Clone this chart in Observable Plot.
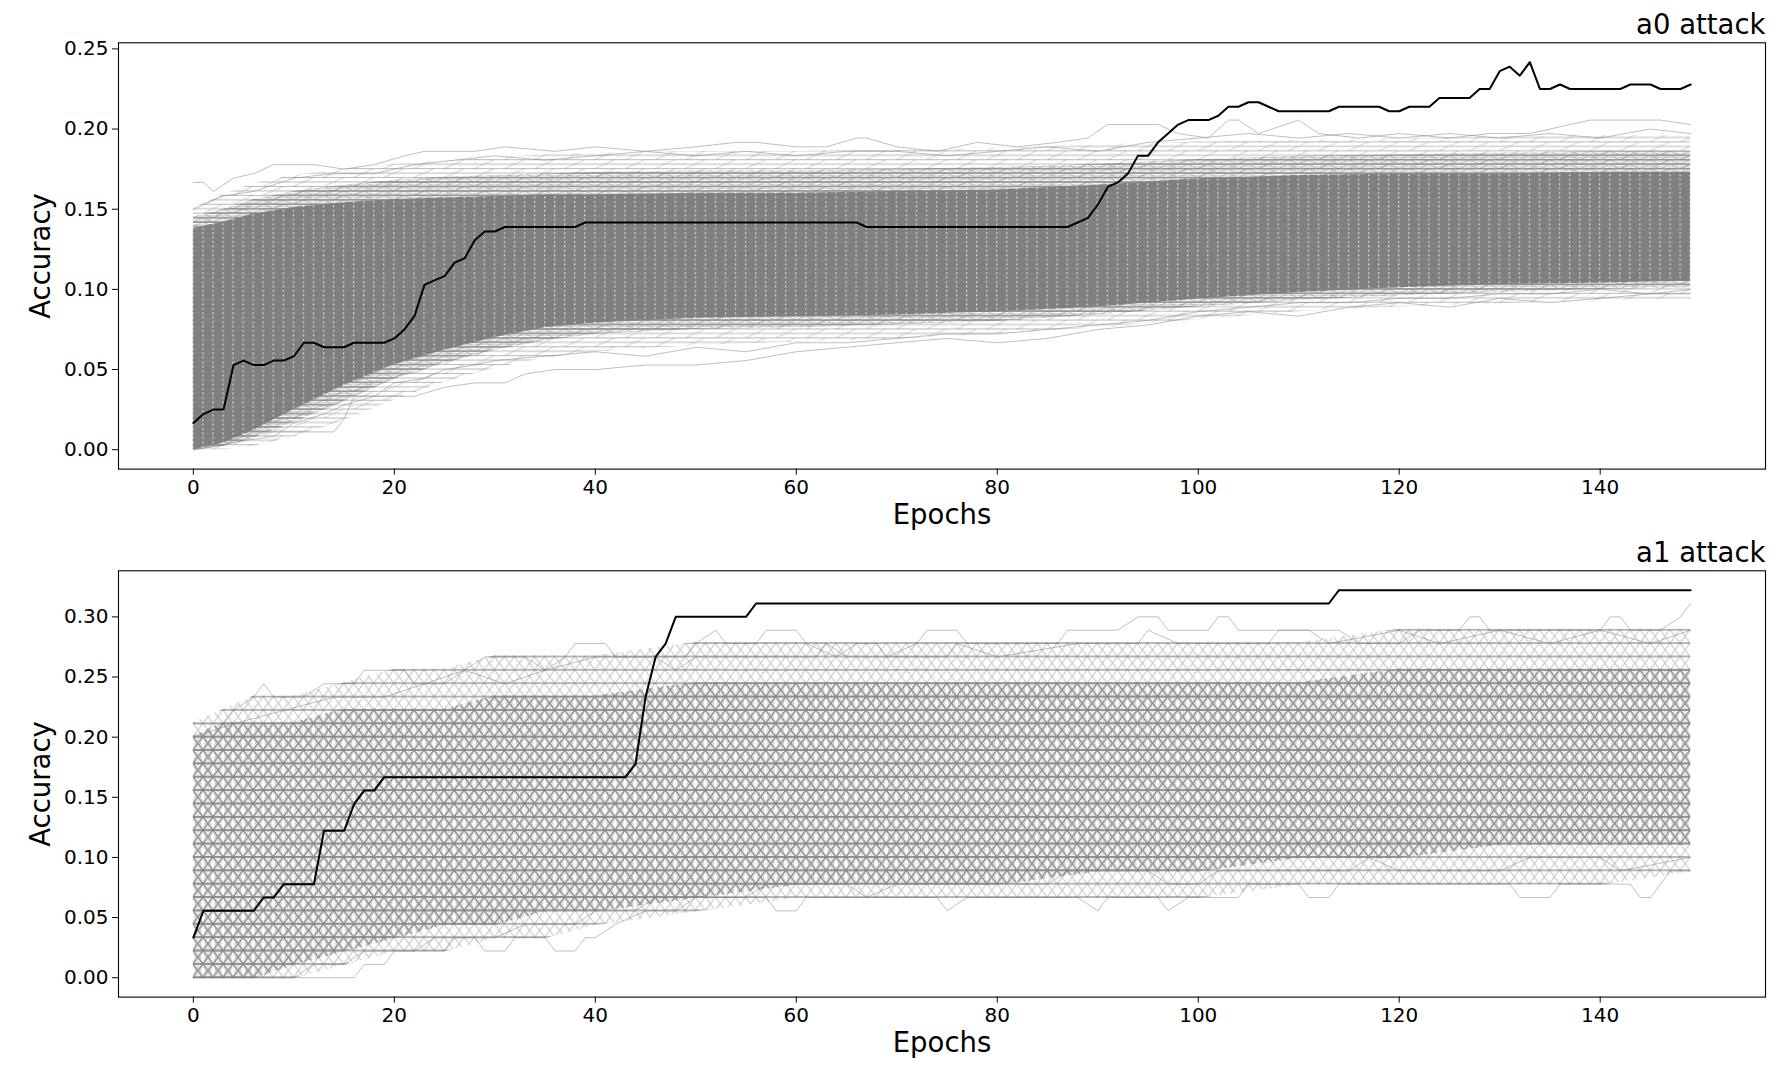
<!DOCTYPE html>
<html>
<head>
<meta charset="utf-8">
<script src="https://cdn.jsdelivr.net/npm/d3@7"></script>
<script src="https://cdn.jsdelivr.net/npm/@observablehq/plot@0.6"></script>
<style>
html, body { margin: 0; padding: 0; background: #ffffff; }
#chart { width: 1792px; height: 1070px; overflow: hidden; }
#chart svg { display: block; }
</style>
</head>
<body>
<div id="chart"></div>
<script>
// ---------- shared labels / ticks ----------
const xLabel = "Epochs";
const yLabel = "Accuracy";
const titles = ["a0 attack", "a1 attack"];
const xTicks = [0, 20, 40, 60, 80, 100, 120, 140];
const a0YTicks = [0, 0.05, 0.10, 0.15, 0.20, 0.25];
const a1YTicks = [0, 0.05, 0.10, 0.15, 0.20, 0.25, 0.30];

// ---------- highlighted (black) series, one value per epoch 0..149 ----------
const a0Best = [
0.0167,0.0222,0.025,0.025,0.0528,0.0556,0.0528,0.0528,0.0556,0.0556,
0.0583,0.0667,0.0667,0.0639,0.0639,0.0639,0.0667,0.0667,0.0667,0.0667,
0.0694,0.075,0.0833,0.1028,0.1056,0.1083,0.1167,0.1194,0.1306,0.1361,
0.1361,0.1389,0.1389,0.1389,0.1389,0.1389,0.1389,0.1389,0.1389,0.1417,
0.1417,0.1417,0.1417,0.1417,0.1417,0.1417,0.1417,0.1417,0.1417,0.1417,
0.1417,0.1417,0.1417,0.1417,0.1417,0.1417,0.1417,0.1417,0.1417,0.1417,
0.1417,0.1417,0.1417,0.1417,0.1417,0.1417,0.1417,0.1389,0.1389,0.1389,
0.1389,0.1389,0.1389,0.1389,0.1389,0.1389,0.1389,0.1389,0.1389,0.1389,
0.1389,0.1389,0.1389,0.1389,0.1389,0.1389,0.1389,0.1389,0.1417,0.1444,
0.1528,0.1639,0.1667,0.1722,0.1833,0.1833,0.1917,0.1972,0.2028,0.2056,
0.2056,0.2056,0.2083,0.2139,0.2139,0.2167,0.2167,0.2139,0.2111,0.2111,
0.2111,0.2111,0.2111,0.2111,0.2139,0.2139,0.2139,0.2139,0.2139,0.2111,
0.2111,0.2139,0.2139,0.2139,0.2194,0.2194,0.2194,0.2194,0.225,0.225,
0.2361,0.2389,0.2333,0.2417,0.225,0.225,0.2278,0.225,0.225,0.225,
0.225,0.225,0.225,0.2278,0.2278,0.2278,0.225,0.225,0.225,0.2278
];
const a1Best = [
0.0333,0.0556,0.0556,0.0556,0.0556,0.0556,0.0556,0.0667,0.0667,0.0778,
0.0778,0.0778,0.0778,0.1222,0.1222,0.1222,0.1444,0.1556,0.1556,0.1667,
0.1667,0.1667,0.1667,0.1667,0.1667,0.1667,0.1667,0.1667,0.1667,0.1667,
0.1667,0.1667,0.1667,0.1667,0.1667,0.1667,0.1667,0.1667,0.1667,0.1667,
0.1667,0.1667,0.1667,0.1667,0.1778,0.2333,0.2667,0.2778,0.3,0.3,
0.3,0.3,0.3,0.3,0.3,0.3,0.3111,0.3111,0.3111,0.3111,
0.3111,0.3111,0.3111,0.3111,0.3111,0.3111,0.3111,0.3111,0.3111,0.3111,
0.3111,0.3111,0.3111,0.3111,0.3111,0.3111,0.3111,0.3111,0.3111,0.3111,
0.3111,0.3111,0.3111,0.3111,0.3111,0.3111,0.3111,0.3111,0.3111,0.3111,
0.3111,0.3111,0.3111,0.3111,0.3111,0.3111,0.3111,0.3111,0.3111,0.3111,
0.3111,0.3111,0.3111,0.3111,0.3111,0.3111,0.3111,0.3111,0.3111,0.3111,
0.3111,0.3111,0.3111,0.3111,0.3222,0.3222,0.3222,0.3222,0.3222,0.3222,
0.3222,0.3222,0.3222,0.3222,0.3222,0.3222,0.3222,0.3222,0.3222,0.3222,
0.3222,0.3222,0.3222,0.3222,0.3222,0.3222,0.3222,0.3222,0.3222,0.3222,
0.3222,0.3222,0.3222,0.3222,0.3222,0.3222,0.3222,0.3222,0.3222,0.3222
];

// ---------- the grey bundle of other runs: envelopes read at these epochs ----------
const bandEpochs = [0,3,6,10,15,20,25,30,35,40,50,60,70,80,90,100,110,120,130,140,149];

// a0: loose lines (outer), dense lines (inner), solid core
const a0OuterLow  = [0.0,0.0,0.002,0.008,0.018,0.031,0.042,0.051,0.057,0.061,0.065,0.067,0.069,0.072,0.076,0.081,0.086,0.089,0.091,0.093,0.094];
const a0InnerLow  = [0.0,0.002,0.007,0.017,0.030,0.044,0.054,0.062,0.068,0.072,0.075,0.076,0.078,0.080,0.084,0.089,0.093,0.096,0.098,0.100,0.101];
const a0CoreLow   = [0.0,0.004,0.012,0.025,0.040,0.053,0.062,0.070,0.076,0.079,0.082,0.083,0.084,0.086,0.089,0.094,0.098,0.101,0.103,0.104,0.105];
const a0CoreHigh  = [0.138,0.142,0.147,0.151,0.154,0.156,0.157,0.158,0.159,0.159,0.160,0.160,0.161,0.162,0.165,0.169,0.171,0.172,0.172,0.173,0.173];
const a0InnerHigh = [0.145,0.150,0.156,0.161,0.165,0.168,0.170,0.171,0.172,0.173,0.174,0.174,0.175,0.176,0.178,0.181,0.183,0.184,0.185,0.186,0.186];
const a0OuterHigh = [0.151,0.159,0.166,0.171,0.175,0.178,0.180,0.182,0.184,0.185,0.186,0.186,0.187,0.188,0.190,0.192,0.193,0.194,0.195,0.196,0.196];

// a1: sparse mesh region and dense mesh core
const a1FringeLow  = [0,0,0,0,0.0111,0.0222,0.0222,0.0333,0.0333,0.0444,0.0556,0.0667,0.0667,0.0667,0.0667,0.0667,0.0778,0.0778,0.0778,0.0778,0.0889];
const a1CoreLow    = [0,0,0,0.0111,0.0222,0.0333,0.0444,0.0444,0.0556,0.0556,0.0667,0.0778,0.0778,0.0778,0.0889,0.0889,0.1,0.1,0.1111,0.1111,0.1111];
const a1CoreHigh   = [0.2,0.2111,0.2111,0.2111,0.2222,0.2222,0.2222,0.2333,0.2333,0.2333,0.2444,0.2444,0.2444,0.2444,0.2444,0.2444,0.2444,0.2556,0.2556,0.2556,0.2556];
const a1FringeHigh = [0.2111,0.2222,0.2333,0.2333,0.2444,0.2556,0.2556,0.2667,0.2667,0.2667,0.2778,0.2778,0.2778,0.2778,0.2778,0.2778,0.2778,0.2889,0.2889,0.2889,0.2889];

// ---------- individual outlying grey runs: [epoch, accuracy] ----------
const a0TopOut1 = [[0,0.1667],[1,0.1667],[2,0.1611],[4,0.1694],[6,0.1722],[8,0.1778],[12,0.1778],[15,0.175],[18,0.1778],[21,0.1833],[23,0.1861],[28,0.1861],[31,0.1889],[36,0.1861],[40,0.1889],[45,0.1861],[50,0.1889],[54,0.1917],[56,0.1917],[60,0.1889],[63,0.1889],[66,0.1944],[67,0.1944],[70,0.1889],[74,0.1861],[78,0.1917],[82,0.1889],[86,0.1917],[89,0.1944],[91,0.2028],[96,0.2028],[98,0.1972],[101,0.1944],[103,0.2056],[104,0.2056],[106,0.1972],[110,0.2056],[112,0.1972],[116,0.1944],[120,0.1972],[125,0.1944],[129,0.1972],[133,0.1972],[137,0.2028],[139,0.2056],[146,0.2056],[149,0.2028]];
const a0TopOut2 = [[0,0.15],[3,0.1583],[6,0.1611],[10,0.1694],[14,0.1722],[18,0.1722],[22,0.1778],[26,0.1806],[30,0.1833],[35,0.1806],[40,0.1833],[45,0.1861],[50,0.1833],[55,0.1861],[60,0.1833],[65,0.1861],[70,0.1861],[75,0.1833],[80,0.1861],[85,0.1889],[90,0.1861],[95,0.1917],[100,0.1944],[105,0.1972],[110,0.1944],[115,0.1972],[120,0.1944],[125,0.1972],[130,0.1944],[135,0.1972],[140,0.1944],[145,0.2],[149,0.1972]];
const a0LowOut1 = [[0,0],[3,0.0028],[6,0.0111],[10,0.0111],[14,0.0111],[15,0.0194],[16,0.0333],[18,0.0333],[22,0.0333],[25,0.0389],[28,0.0417],[31,0.0417],[33,0.0472],[36,0.05],[40,0.05],[45,0.0528],[50,0.0528],[55,0.0556],[60,0.0611],[65,0.0639],[70,0.0667],[75,0.0694],[80,0.0667],[85,0.0694],[90,0.075],[95,0.0778],[100,0.0833],[105,0.0861],[110,0.0833],[115,0.0889],[120,0.0917],[125,0.0889],[130,0.0944],[135,0.0917],[140,0.0944],[145,0.0972],[149,0.0972]];
const a0LowOut2 = [[0,0],[5,0.0056],[8,0.0083],[10,0.0167],[13,0.0222],[15,0.0278],[18,0.0333],[20,0.0417],[23,0.0444],[25,0.05],[28,0.0528],[30,0.0556],[35,0.0583],[40,0.0611],[45,0.0583],[50,0.0639],[55,0.0611],[60,0.0667],[65,0.0667],[70,0.0694],[75,0.0722],[80,0.0722],[85,0.075],[90,0.0778],[95,0.0806],[100,0.0861],[105,0.0889],[110,0.0917],[115,0.0917],[120,0.0944],[125,0.0944],[130,0.0972],[135,0.0972],[140,0.1],[145,0.0972],[149,0.1]];

const a1TopOut1 = [[0,0.2111],[3,0.2111],[4,0.2222],[6,0.2333],[7,0.2444],[8,0.2333],[11,0.2333],[13,0.2444],[16,0.2444],[17,0.2556],[21,0.2556],[22,0.2444],[25,0.2444],[27,0.2556],[29,0.2667],[33,0.2667],[35,0.2556],[37,0.2667],[38,0.2778],[41,0.2778],[42,0.2667],[49,0.2667],[50,0.2778],[52,0.2889],[53,0.2778],[56,0.2778],[57,0.2889],[60,0.2889],[61,0.2778],[64,0.2667],[66,0.2778],[68,0.2778],[69,0.2667],[72,0.2778],[73,0.2889],[76,0.2889],[77,0.2778],[86,0.2778],[87,0.2889],[92,0.2889],[94,0.3],[96,0.3],[97,0.2889],[101,0.2889],[102,0.3],[103,0.3],[104,0.2889],[114,0.2889],[116,0.2778],[120,0.2778],[122,0.2889],[126,0.2889],[127,0.3],[128,0.3],[129,0.2889],[140,0.2889],[141,0.3],[142,0.3],[143,0.2889],[146,0.2889],[148,0.3],[149,0.3111]];
const a1TopOut2 = [[0,0.2],[4,0.2111],[9,0.2222],[14,0.2333],[19,0.2333],[23,0.2444],[27,0.2556],[31,0.2444],[35,0.2556],[40,0.2667],[46,0.2667],[48,0.2556],[50,0.2667],[62,0.2667],[63,0.2778],[65,0.2667],[75,0.2667],[76,0.2778],[80,0.2667],[88,0.2778],[94,0.2778],[95,0.2889],[98,0.2778],[107,0.2778],[108,0.2889],[111,0.2889],[113,0.2778],[120,0.2889],[124,0.2778],[130,0.2889],[135,0.2778],[140,0.2889],[145,0.2778],[149,0.2889]];
const a1LowOut1 = [[0,0],[16,0],[17,0.0111],[19,0.0111],[20,0.0222],[25,0.0222],[26,0.0333],[28,0.0333],[29,0.0222],[31,0.0222],[32,0.0333],[35,0.0333],[36,0.0222],[38,0.0222],[39,0.0333],[40,0.0333],[42,0.0444],[45,0.0556],[48,0.0556],[50,0.0667],[57,0.0667],[58,0.0556],[60,0.0556],[61,0.0667],[74,0.0667],[75,0.0556],[77,0.0667],[88,0.0667],[90,0.0556],[91,0.0667],[96,0.0667],[97,0.0556],[99,0.0667],[104,0.0667],[105,0.0778],[110,0.0778],[111,0.0667],[113,0.0667],[114,0.0778],[131,0.0778],[132,0.0667],[135,0.0667],[136,0.0778],[143,0.0778],[144,0.0667],[145,0.0667],[146,0.0778],[147,0.0889],[149,0.0889]];
const a1LowOut2 = [[0,0],[10,0],[12,0.0111],[15,0.0111],[17,0.0222],[22,0.0222],[24,0.0333],[30,0.0333],[33,0.0444],[38,0.0444],[40,0.0556],[44,0.0556],[46,0.0667],[55,0.0667],[57,0.0778],[65,0.0778],[67,0.0667],[70,0.0778],[85,0.0778],[87,0.0889],[95,0.0889],[97,0.0778],[100,0.0778],[102,0.0889],[115,0.0889],[117,0.1],[120,0.0889],[130,0.0889],[133,0.1],[140,0.1],[142,0.0889],[149,0.1]];

// ---------- drawing ----------
const FONT = "'DejaVu Sans', 'Liberation Sans', sans-serif";

function makePanel(cfg) {
  const marks = [];
  cfg.layers.forEach(L => {
    const rows = bandEpochs.map((e, i) => ({e, lo: L.low[i], hi: L.high[i]}));
    marks.push(Plot.areaY(rows, {
      x: "e", y1: d => d.lo - L.pad, y2: d => d.hi + L.pad,
      fill: `url(#${L.pattern})`, curve: L.curve
    }));
  });
  cfg.outliers.forEach(o => marks.push(Plot.line(o, {
    x: d => d[0], y: d => d[1], stroke: "#808080", strokeOpacity: 0.5, strokeWidth: 1
  })));
  marks.push(Plot.line(cfg.best, {x: (d, i) => i, y: d => d, stroke: "#000", strokeWidth: 2}));
  marks.push(Plot.frame({stroke: "#000", strokeWidth: 1.1}));
  marks.push(Plot.axisX({ticks: xTicks, tickSize: 6, tickPadding: 5, fontSize: 20, label: null, tickFormat: d => String(d)}));
  marks.push(Plot.axisY({ticks: cfg.yTicks, tickSize: 6, tickPadding: 4, fontSize: 20, label: null, tickFormat: d3.format(".2f")}));
  marks.push(Plot.text([xLabel], {text: d => d, frameAnchor: "bottom", lineAnchor: "bottom", dy: 54.4, fontSize: 27.5}));
  marks.push(Plot.text([yLabel], {text: d => d, frameAnchor: "left", textAnchor: "middle", lineAnchor: "bottom", rotate: -90, dx: -69, fontSize: 27.5}));
  marks.push(Plot.text([cfg.title], {text: d => d, frameAnchor: "top-right", textAnchor: "end", lineAnchor: "bottom", dy: -9, fontSize: 27.5}));

  const svg = Plot.plot({
    width: 1792, height: cfg.height,
    marginLeft: 118, marginRight: 27, marginTop: cfg.marginTop, marginBottom: cfg.marginBottom,
    x: {domain: [-7.45, 156.45]},
    y: {domain: cfg.yDomain},
    style: {fontFamily: FONT, fontSize: "20px", color: "#000", background: "#fff", overflow: "visible"},
    marks
  });
  const xs = svg.scale("x"), ys = svg.scale("y");
  const x0 = xs.apply(0), dx = xs.apply(1) - x0;
  const y0 = ys.apply(0), dy = y0 - ys.apply(cfg.step);
  const defs = document.createElementNS("http://www.w3.org/2000/svg", "defs");
  defs.innerHTML = cfg.patterns(x0, y0, dx, dy);
  svg.insertBefore(defs, svg.firstChild);
  return svg;
}

const p1 = makePanel({
  title: titles[0], best: a0Best, yTicks: a0YTicks, yDomain: [-0.0121, 0.2538], step: 1 / 360,
  height: 535, marginTop: 42.3, marginBottom: 66.4,
  layers: [
    {low: a0OuterLow, high: a0OuterHigh, pattern: "a0outer", curve: "linear", pad: 0},
    {low: a0InnerLow, high: a0InnerHigh, pattern: "a0inner", curve: "linear", pad: 0},
    {low: a0CoreLow, high: a0CoreHigh, pattern: "a0core", curve: "linear", pad: 0}
  ],
  outliers: [a0TopOut1, a0TopOut2, a0LowOut1, a0LowOut2],
  patterns: (x0, y0, dx, dy) => `
    <pattern id="a0outer" patternUnits="userSpaceOnUse" x="${x0}" y="${y0}" width="${dx * 3}" height="${dy * 2}">
      <path d="M0,0H${dx * 3}M0,${dy}H${dx * 3}M0,${dy * 2}H${dx * 3}" stroke="#808080" stroke-opacity="0.55" stroke-width="1.1" fill="none"/>
      <path d="M${dx},${dy}L${dx * 2},0M${dx * 2},${dy * 2}L${dx * 3},${dy}" stroke="#808080" stroke-opacity="0.35" stroke-width="1" fill="none"/>
    </pattern>
    <pattern id="a0inner" patternUnits="userSpaceOnUse" x="${x0}" y="${y0}" width="${dx * 2}" height="${dy}">
      <path d="M0,0H${dx * 2}M0,${dy}H${dx * 2}" stroke="#808080" stroke-opacity="0.9" stroke-width="1.4" fill="none"/>
      <path d="M0,${dy / 2}H${dx * 2}" stroke="#808080" stroke-opacity="0.35" stroke-width="1" fill="none"/>
      <path d="M0,${dy}L${dx},0M${dx},0L${dx * 2},${dy}" stroke="#808080" stroke-opacity="0.45" stroke-width="1" fill="none"/>
    </pattern>
    <pattern id="a0core" patternUnits="userSpaceOnUse" x="${x0 - 0.6}" y="${y0}" width="${dx}" height="${dy}">
      <rect width="${dx}" height="${dy}" fill="#808080"/>
      <rect x="0" y="${dy * 0.3}" width="1.2" height="1.6" fill="#ffffff" fill-opacity="0.85"/>
    </pattern>`
});

const p2 = makePanel({
  title: titles[1], best: a1Best, yTicks: a1YTicks, yDomain: [-0.0161, 0.3383], step: 1 / 90,
  height: 535, marginTop: 35.3, marginBottom: 73.4,
  layers: [
    {low: a1FringeLow, high: a1FringeHigh, pattern: "a1fringe", curve: "linear", pad: 0.0009},
    {low: a1CoreLow, high: a1CoreHigh, pattern: "a1core", curve: "linear", pad: 0.0009}
  ],
  outliers: [a1TopOut1, a1TopOut2, a1LowOut1, a1LowOut2],
  patterns: (x0, y0, dx, dy) => `
    <pattern id="a1fringe" patternUnits="userSpaceOnUse" x="${x0}" y="${y0}" width="${dx}" height="${dy}">
      <path d="M0,0H${dx}M0,${dy}H${dx}" stroke="#808080" stroke-opacity="0.8" stroke-width="1.2" fill="none"/>
      <path d="M0,0L${dx},${dy}M0,${dy}L${dx},0" stroke="#808080" stroke-opacity="0.5" stroke-width="1" fill="none"/>
    </pattern>
    <pattern id="a1core" patternUnits="userSpaceOnUse" x="${x0}" y="${y0}" width="${dx}" height="${dy}">
      <path d="M0,0H${dx}M0,${dy}H${dx}" stroke="#808080" stroke-opacity="0.95" stroke-width="1.3" fill="none"/>
      <path d="M0,0L${dx},${dy}M0,${dy}L${dx},0" stroke="#808080" stroke-opacity="0.8" stroke-width="1.4" fill="none"/>
      <path d="M0,0L${dx / 2},${dy}M${dx / 2},0L${dx},${dy}M${dx},0L${dx / 2},${dy}M${dx / 2},0L0,${dy}" stroke="#999999" stroke-opacity="0.45" stroke-width="0.9" fill="none"/>
    </pattern>`
});

const chart = document.getElementById("chart");
chart.appendChild(p1);
chart.appendChild(p2);
</script>
</body>
</html>
